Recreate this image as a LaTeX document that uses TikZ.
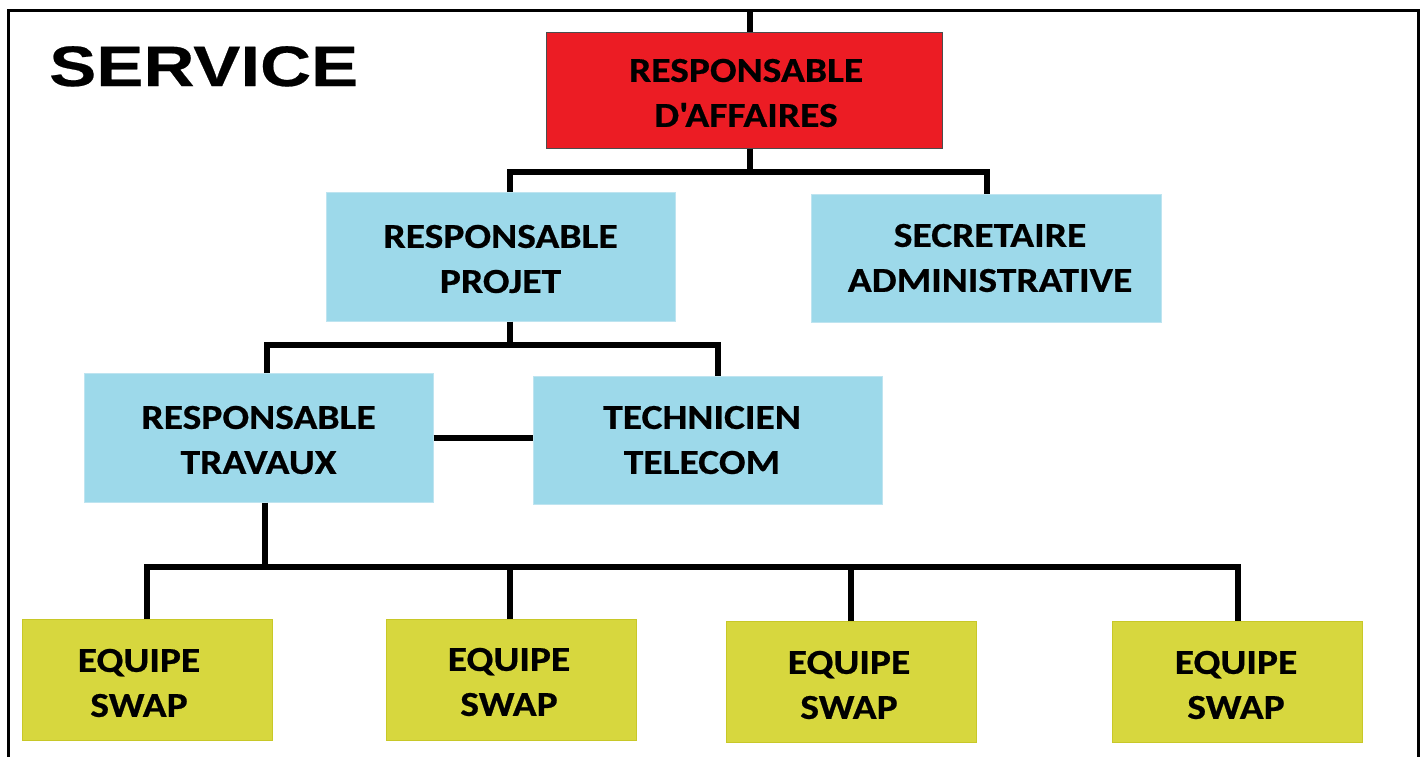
\documentclass[tikz,border=0pt]{standalone}
\usepackage{fontspec}
\newfontfamily\boxfont[FakeStretch=1.13,FakeBold=0.6]{Carlito}
\newfontfamily\titlefont[FakeStretch=1.24,FakeBold=0.4]{Liberation Sans}
\definecolor{rbox}{RGB}{236,28,36}
\definecolor{bbox}{RGB}{157,217,234}
\definecolor{bboxline}{RGB}{190,228,240}
\definecolor{ybox}{RGB}{215,215,62}
\definecolor{yboxline}{RGB}{200,200,40}
\tikzset{
  box/.style={rectangle, inner sep=0pt, align=center,
    font=\boxfont\bfseries\fontsize{35}{45}\selectfont, text=black},
  redbox/.style={box, fill=rbox, draw=black!70, line width=1pt},
  bluebox/.style={box, fill=bbox, draw=bboxline, line width=1pt},
  yelbox/.style={box, fill=ybox, draw=yboxline, line width=1pt,
    minimum width=250pt, minimum height=121pt},
  conn/.style={draw=black, line width=6pt, line cap=butt},
  frame/.style={draw=black, line width=3pt}
}
\begin{document}
\begin{tikzpicture}[x=1pt,y=-1pt]
\useasboundingbox[fill=white] (0,0) rectangle (1426,756);
% frame
\coordinate (fbl) at (8,760);
\coordinate (ftl) at (8,10);
\coordinate (ftr) at (1418,10);
\coordinate (fbr) at (1418,760);
\draw[frame] (fbl) -- (ftl) -- (ftr) -- (fbr);
% title
\node[anchor=base west, inner sep=0pt, font=\titlefont\bfseries\fontsize{57}{60}\selectfont] (title) at (49,86) {SERVICE};
% boxes
\node[redbox, minimum width=396pt, minimum height=116pt] (ra) at (744,90) {};
\node[box] (ratxt) at (746,93) {RESPONSABLE\\D'AFFAIRES};
\node[bluebox, minimum width=349pt, minimum height=129pt] (rp) at (500.5,256.5) {};
\node[box] (rptxt) at (500.5,259) {RESPONSABLE\\PROJET};
\node[bluebox, minimum width=350pt, minimum height=128pt] (sa) at (986,258) {};
\node[box] (satxt) at (990,258) {SECRETAIRE\\ADMINISTRATIVE};
\node[bluebox, minimum width=349pt, minimum height=129pt] (rt) at (258.5,437.5) {};
\node[box] (rttxt) at (258.5,440) {RESPONSABLE\\TRAVAUX};
\node[bluebox, minimum width=349pt, minimum height=128pt] (tt) at (707.5,440) {};
\node[box] (tttxt) at (702,440) {TECHNICIEN\\TELECOM};
\node[yelbox] (e1) at (147,680) {};
\node[box] (e1txt) at (139,683) {EQUIPE\\SWAP};
\node[yelbox] (e2) at (511.5,680) {};
\node[box] (e2txt) at (509,682) {EQUIPE\\SWAP};
\node[yelbox] (e3) at (851.5,682) {};
\node[box] (e3txt) at (849,685) {EQUIPE\\SWAP};
\node[yelbox] (e4) at (1237.5,681.5) {};
\node[box] (e4txt) at (1236,685) {EQUIPE\\SWAP};
% junction coordinates
\coordinate (top) at (750,10);
\coordinate (j1) at (750,172);
\coordinate (x1) at (510,172);
\coordinate (x2) at (987,172);
\coordinate (j2) at (510,345);
\coordinate (x3) at (267,345);
\coordinate (x4) at (718,345);
\coordinate (j3) at (265,567);
\coordinate (y1) at (147,567);
\coordinate (y2) at (510,567);
\coordinate (y3) at (851,567);
\coordinate (y4) at (1238,567);
% connectors
\draw[conn] (top) -- (ra.north -| top);
\draw[conn] (ra.south -| j1) -- (j1);
\draw[conn] (rp.north -| x1) -- (x1) -- (x2) -- (sa.north -| x2);
\draw[conn] (rp.south -| j2) -- (j2);
\draw[conn] (rt.north -| x3) -- (x3) -- (x4) -- (tt.north -| x4);
\draw[conn] (rt.east) -- (tt.west |- rt.east);
\draw[conn] (rt.south -| j3) -- (j3);
\draw[conn] (e1.north -| y1) -- (y1) -- (y4) -- (e4.north -| y4);
\draw[conn] (e2.north -| y2) -- (y2);
\draw[conn] (e3.north -| y3) -- (y3);
\end{tikzpicture}
\end{document}
